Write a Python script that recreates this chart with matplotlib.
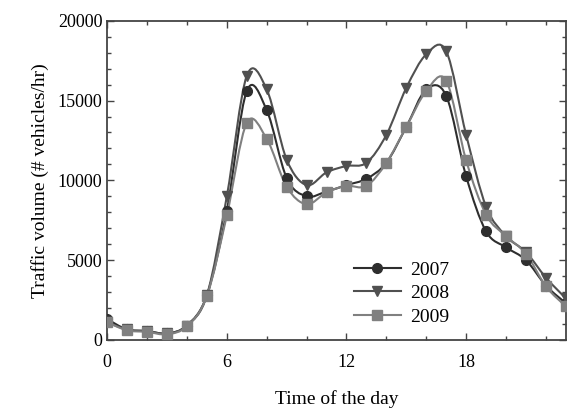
import numpy as np
import matplotlib
matplotlib.use('Agg')
from matplotlib import pyplot as plt
from matplotlib.path import Path
from matplotlib.patches import PathPatch
from matplotlib.lines import Line2D

# Horas del dia y volumen de trafico por anio
horas = list(range(24))
v2007 = [1300, 650, 550, 400, 900, 2800, 8100, 15600, 14400, 10150, 9000, 9300,
         9700, 10100, 11100, 13350, 15700, 15300, 10250, 6800, 5800, 5000, 3400, 2300]
v2008 = [1100, 650, 550, 400, 900, 2800, 9000, 16550, 15700, 11300, 9700, 10500,
         10900, 11100, 12850, 15800, 17900, 18100, 12850, 8350, 6500, 5500, 3900, 2600]
v2009 = [1100, 600, 500, 350, 850, 2750, 7800, 13600, 12600, 9600, 8500, 9250,
         9650, 9650, 11100, 13350, 15600, 16250, 11250, 7850, 6500, 5400, 3350, 2100]

series = [('2007', v2007, 'o', '#2e2e2e'),
          ('2008', v2008, 'v', '#505050'),
          ('2009', v2009, 's', '#808080')]


def curva_suave(x, y):
    # Path de Bezier (Catmull-Rom) que pasa por los puntos
    x = np.asarray(x, float)
    y = np.asarray(y, float)
    n = len(x)
    verts = [(x[0], y[0])]
    codes = [Path.MOVETO]
    for i in range(n - 1):
        i0 = max(i - 1, 0)
        i3 = min(i + 2, n - 1)
        c1 = (x[i] + (x[i + 1] - x[i0]) / 6, y[i] + (y[i + 1] - y[i0]) / 6)
        c2 = (x[i + 1] - (x[i3] - x[i]) / 6, y[i + 1] - (y[i3] - y[i]) / 6)
        verts += [c1, c2, (x[i + 1], y[i + 1])]
        codes += [Path.CURVE4] * 3
    return Path(verts, codes)


plt.rcParams['font.family'] = ['Liberation Serif', 'DejaVu Serif']

fig = plt.figure(figsize=(5.67, 4.08), dpi=100)
ax = fig.add_axes([0.189, 0.167, 0.809, 0.782])

handles = []
for nombre, valores, marca, color in series:
    ax.add_patch(PathPatch(curva_suave(horas, valores), facecolor='none',
                           edgecolor=color, lw=1.5, zorder=2))
    ax.plot(horas, valores, linestyle='none', marker=marca, color=color,
            markersize=7, zorder=3)
    handles.append(Line2D([], [], color=color, lw=1.5, marker=marca, markersize=7))

ax.set_xlim(0, 23)
ax.set_ylim(0, 20000)
ax.set_xticks([0, 6, 12, 18])
ax.set_xticks(np.arange(0, 23, 2), minor=True)
ax.set_yticks([0, 5000, 10000, 15000, 20000])
ax.set_yticks(np.arange(0, 20001, 1000), minor=True)
ax.tick_params(which='both', direction='in', top=True, right=True, color='#444444',
               labelsize=13)
ax.tick_params(which='major', length=5, width=1)
ax.tick_params(which='minor', length=3, width=1)
ax.tick_params(axis='x', pad=10)
for s in ax.spines.values():
    s.set_color('#444444')
    s.set_linewidth(1.3)

ax.set_xlabel('Time of the day', fontsize=14, labelpad=14)
ax.set_ylabel('Traffic volume (# vehicles/hr)', fontsize=14, labelpad=6)

ax.legend(handles, ['2007', '2008', '2009'], loc='lower left',
          bbox_to_anchor=(0.5, -0.01), frameon=False, fontsize=14,
          handlelength=2.4, labelspacing=0.3, handletextpad=0.5)

plt.savefig('out.png', dpi=100)
